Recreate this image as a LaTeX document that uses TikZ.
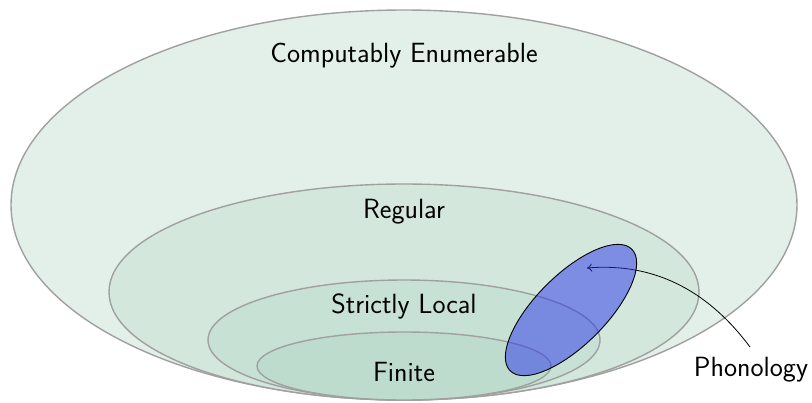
\documentclass[tikz,border=0pt]{standalone}
\usetikzlibrary{arrows.meta}
\definecolor{ce}{RGB}{227,240,234}
\definecolor{reg}{RGB}{211,231,221}
\definecolor{sl}{RGB}{199,225,212}
\definecolor{fin}{RGB}{190,220,205}
\definecolor{edge}{RGB}{160,160,160}
\definecolor{phon}{RGB}{40,52,235}
\begin{document}
\begin{tikzpicture}[x=1pt,y=-1pt,
  setclass/.style={draw=edge,line width=1.4pt},
  lbl/.style={font=\sffamily\fontsize{27.8}{33}\selectfont,inner sep=0pt,text=black}]
\useasboundingbox (0,0) rectangle (812,402);
\fill[white] (0,0) rectangle (812,402);
\draw[setclass,fill=ce] (404,205) ellipse [x radius=393, y radius=195];
\draw[setclass,fill=reg] (404,292) ellipse [x radius=295, y radius=108];
\draw[setclass,fill=sl] (404,340) ellipse [x radius=196, y radius=60];
\draw[setclass,fill=fin] (404,366) ellipse [x radius=147, y radius=34];
\node[lbl] (ce) at (404,56) {Computably Enumerable};
\node[lbl] (reg) at (404,212) {Regular};
\node[lbl] (sl) at (404,306) {Strictly Local};
\node[lbl] (fin) at (404,372) {Finite};
\node[lbl] (phonlbl) at (751,370) {Phonology};
\coordinate (start) at (750,347);
\coordinate (tip) at (587,268);
\draw[line width=0.8pt,-{To[length=5pt,width=8pt]}] (start) .. controls (712,296) and (660,262) .. (tip);
\draw[black,line width=0.9pt,fill=phon,fill opacity=0.5,rotate around={45:(571,310)}] (571,310) ellipse [x radius=86, y radius=35];
\end{tikzpicture}
\end{document}
